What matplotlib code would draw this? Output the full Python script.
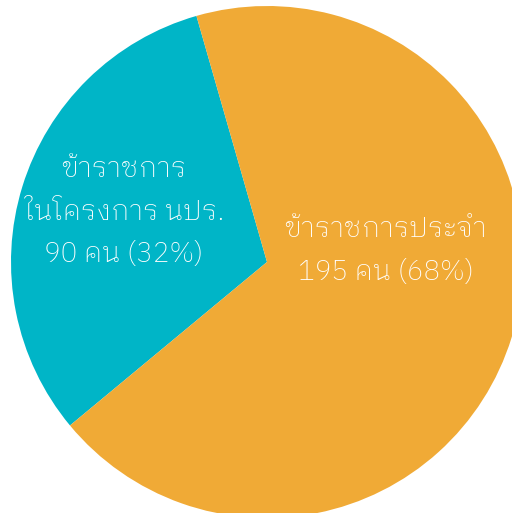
import matplotlib
matplotlib.use("Agg")
import matplotlib.pyplot as plt

# data
groups = ["ข้าราชการ\nในโครงการ นปร.", "ข้าราชการประจำ"]
counts = [90, 195]
colors = ["#00B5C7", "#F0AA36"]

plt.rcParams["font.family"] = ["IBM Plex Sans Thai Looped", "Noto Sans Thai Looped", "DejaVu Sans"]

W, H = 512, 513
fig = plt.figure(figsize=(W / 100, H / 100), dpi=100)
ax = fig.add_axes([0, 0, 1, 1])

cx, cy, r = 267, H - 262, 256
total = sum(counts)
ax.pie(counts, colors=colors, startangle=106, counterclock=True,
       center=(cx, cy), radius=r, frame=True,
       wedgeprops=dict(linewidth=0))
ax.set_xlim(0, W)
ax.set_ylim(0, H)
ax.set_aspect("equal")
ax.axis("off")

label_pos = [(cx - 143, cy + 50), (cx + 119, cy + 11)]
for name, n, (x, y) in zip(groups, counts, label_pos):
    pct = round(n / total * 100)
    ax.text(x, y, f"{name}\n{n} คน ({pct}%)", ha="center", va="center",
            color="white", fontsize=20, fontweight="light", linespacing=1.75)

fig.savefig("out.png")
